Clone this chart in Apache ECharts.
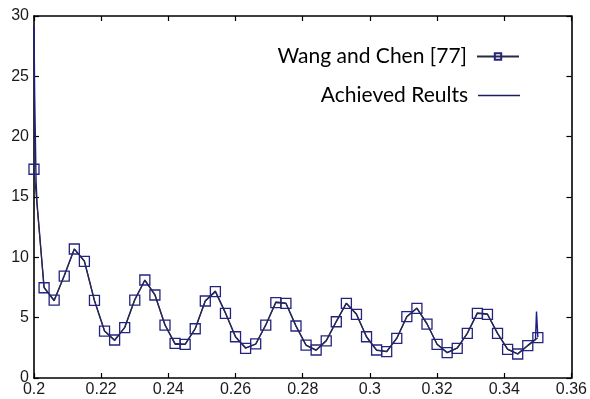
<!DOCTYPE html>
<html>
<head>
<meta charset="utf-8">
<script src="https://cdn.jsdelivr.net/npm/echarts@6/dist/echarts.min.js"></script>
<style>html,body{margin:0;padding:0;background:#fff;}#c{width:590px;height:399px;}</style>
</head>
<body>
<div id="c"></div>
<script>
const xTicks = [0.2, 0.22, 0.24, 0.26, 0.28, 0.3, 0.32, 0.34, 0.36];
const yTicks = [0, 5, 10, 15, 20, 25, 30];

const wangX = [0.200,0.203,0.206,0.209,0.212,0.215,0.218,0.221,0.224,0.227,
  0.230,0.233,0.236,0.239,0.242,0.245,0.248,0.251,0.254,0.257,
  0.260,0.263,0.266,0.269,0.272,0.275,0.278,0.281,0.284,0.287,
  0.290,0.293,0.296,0.299,0.302,0.305,0.308,0.311,0.314,0.317,
  0.320,0.323,0.326,0.329,0.332,0.335,0.338,0.341,0.344,0.347,0.350];
const wangY = [17.3,7.48,6.46,8.45,10.69,9.67,6.43,3.89,3.15,4.17,
  6.46,8.12,6.88,4.39,2.87,2.79,4.08,6.38,7.15,5.36,
  3.42,2.46,2.82,4.39,6.24,6.19,4.31,2.73,2.32,3.07,
  4.66,6.19,5.27,3.42,2.32,2.18,3.28,5.08,5.77,4.47,
  2.79,2.10,2.46,3.70,5.36,5.27,3.70,2.37,1.99,2.68,3.34];

const achievedX = [0.2000,0.2002,0.2004,0.2006,0.2009,0.203,0.206,0.209,0.212,0.215,0.218,0.221,0.224,0.227,
  0.230,0.233,0.236,0.239,0.242,0.245,0.248,0.251,0.254,0.257,
  0.260,0.263,0.266,0.269,0.272,0.275,0.278,0.281,0.284,0.287,
  0.290,0.293,0.296,0.299,0.302,0.305,0.308,0.311,0.314,0.317,
  0.320,0.323,0.326,0.329,0.332,0.335,0.338,0.341,0.344,0.347,0.3493,0.3496,0.3500];
const achievedY = [29.2,23.4,20.0,16.5,14.5,7.5,6.4,8.5,10.7,9.7,6.4,3.9,3.1,4.2,
  6.5,8.1,6.9,4.4,2.8,2.8,4.1,6.4,7.2,5.4,
  3.4,2.5,2.8,4.4,6.3,6.2,4.3,2.7,2.3,3.1,
  4.7,6.2,5.3,3.4,2.3,2.2,3.3,5.1,5.8,4.5,
  2.8,2.1,2.5,3.7,5.4,5.3,3.7,2.4,2.0,2.7,3.2,5.5,3.4];

const wangName = 'Wang and Chen [77]';
const achName = 'Achieved Reults';

const zip = (xs, ys) => xs.map((x, i) => [x, ys[i]]);
const axisColor = '#000';
const labelFont = {fontFamily: '"Liberation Sans Narrow", "Liberation Sans", Arial, sans-serif', fontSize: 16, color: '#1a1a1a'};
const legendText = {fontFamily: 'Lato, "Open Sans", sans-serif', fontSize: 21, color: '#000', padding: [0, 5, 0, 0]};

const chart = echarts.init(document.getElementById('c'), null, {renderer: 'canvas'});
chart.setOption({
  animation: false,
  backgroundColor: '#fff',
  grid: {left: 34, right: 15, top: 16, bottom: 21, containLabel: false},
  legend: [
    {data: [wangName], orient: 'horizontal', align: 'right', right: 65, top: 41,
     itemWidth: 42, itemHeight: 8, textStyle: legendText},
    {data: [{name: achName, icon: 'rect'}], orient: 'horizontal', align: 'right', right: 65, top: 80,
     itemWidth: 42, itemHeight: 1.4, textStyle: legendText}
  ],
  xAxis: [
    {type: 'value', min: xTicks[0], max: xTicks[xTicks.length - 1], interval: 0.02,
     axisLine: {show: true, onZero: false, lineStyle: {color: axisColor, width: 1.6}},
     axisTick: {show: true, inside: true, length: 5, lineStyle: {color: axisColor, width: 1.2}},
     axisLabel: Object.assign({margin: 4, formatter: v => String(+v.toFixed(2))}, labelFont),
     splitLine: {show: false}},
    {type: 'value', position: 'top', min: xTicks[0], max: xTicks[xTicks.length - 1], interval: 0.02,
     axisLine: {show: true, onZero: false, lineStyle: {color: axisColor, width: 1.6}},
     axisTick: {show: true, inside: true, length: 5, lineStyle: {color: axisColor, width: 1.2}},
     axisLabel: {show: false}, splitLine: {show: false}}
  ],
  yAxis: [
    {type: 'value', min: yTicks[0], max: yTicks[yTicks.length - 1], interval: 5,
     axisLine: {show: true, onZero: false, lineStyle: {color: axisColor, width: 1.6}},
     axisTick: {show: true, inside: true, length: 5, lineStyle: {color: axisColor, width: 1.2}},
     axisLabel: Object.assign({margin: 5}, labelFont),
     splitLine: {show: false}},
    {type: 'value', position: 'right', min: yTicks[0], max: yTicks[yTicks.length - 1], interval: 5,
     axisLine: {show: true, onZero: false, lineStyle: {color: axisColor, width: 1.6}},
     axisTick: {show: true, inside: true, length: 5, lineStyle: {color: axisColor, width: 1.2}},
     axisLabel: {show: false}, splitLine: {show: false}}
  ],
  series: [
    {name: achName, type: 'line', data: zip(achievedX, achievedY), symbol: 'none', z: 2,
     lineStyle: {color: '#1c1c8a', width: 1.4}, itemStyle: {color: '#1c1c60'}},
    {name: wangName, type: 'line', data: zip(wangX, wangY), symbol: 'rect', symbolSize: 10, z: 3,
     lineStyle: {color: '#2a2a40', width: 1.2},
     itemStyle: {color: 'rgba(255,255,255,0)', borderColor: '#24247e', borderWidth: 1.3}}
  ]
});
</script>
</body>
</html>
